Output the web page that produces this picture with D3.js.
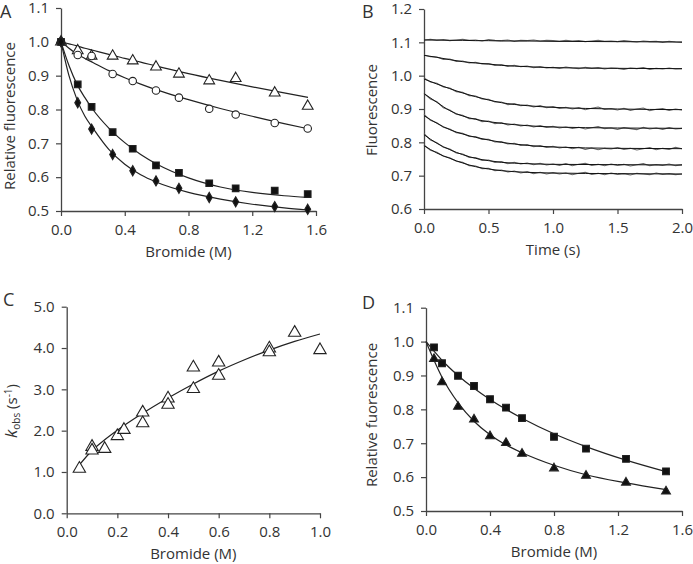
<!DOCTYPE html>
<html><head><meta charset="utf-8">
<script src="https://cdn.jsdelivr.net/npm/d3@7"></script>
<style>
html,body{margin:0;padding:0;background:#fff;}
svg text{font-family:"Open Sans",Lato,sans-serif;fill:#333;}
</style></head>
<body><svg id="c" width="693" height="564"></svg>
<script>
// ---------- Panel A data ----------
const aX = [0, 0.105, 0.192, 0.324, 0.450, 0.596, 0.740, 0.930, 1.096, 1.341, 1.548];
const aTriangle = [1.0, 0.974, 0.958, 0.958, 0.944, 0.926, 0.905, 0.885, 0.892, 0.849, 0.810];
const aCircle = [1.0, 0.961, 0.958, 0.905, 0.884, 0.856, 0.835, 0.802, 0.785, 0.760, 0.744];
const aSquare = [1.0, 0.874, 0.808, 0.733, 0.684, 0.635, 0.613, 0.582, 0.567, 0.560, 0.550];
const aDiamond = [1.0, 0.820, 0.742, 0.667, 0.619, 0.589, 0.567, 0.540, 0.527, 0.513, 0.505];
const aFitX = [0, 0.05, 0.1, 0.15, 0.2, 0.3, 0.4, 0.5, 0.6, 0.8, 1.0, 1.2, 1.4, 1.55];
const aFitTriangle = [1.0, 0.994, 0.988, 0.981, 0.975, 0.963, 0.951, 0.940, 0.928, 0.906, 0.886, 0.867, 0.849, 0.836];
const aFitCircle = [1.0, 0.981, 0.964, 0.951, 0.939, 0.915, 0.894, 0.875, 0.858, 0.829, 0.803, 0.780, 0.758, 0.743];
const aFitSquare = [1.0, 0.930, 0.875, 0.835, 0.800, 0.745, 0.702, 0.667, 0.639, 0.598, 0.571, 0.555, 0.545, 0.540];
const aFitDiamond = [1.0, 0.900, 0.830, 0.780, 0.745, 0.682, 0.638, 0.607, 0.585, 0.555, 0.535, 0.520, 0.509, 0.503];
const aXTicks = [0, 0.4, 0.8, 1.2, 1.6];
const aYTicks = [0.5, 0.6, 0.7, 0.8, 0.9, 1.0, 1.1];

// ---------- Panel B data ----------
const bTimes = [0,0.05,0.1,0.15,0.2,0.25,0.3,0.35,0.4,0.45,0.5,0.55,0.6,0.65,0.7,0.75,0.8,0.85,0.9,0.95,1.0,1.05,1.1,1.15,1.2,1.25,1.3,1.35,1.4,1.45,1.5,1.55,1.6,1.65,1.7,1.75,1.8,1.85,1.9,1.95,2.0];
const bTrace1 = [1.107,1.109,1.106,1.108,1.105,1.107,1.109,1.106,1.107,1.104,1.108,1.106,1.105,1.107,1.103,1.106,1.105,1.107,1.104,1.106,1.105,1.103,1.106,1.104,1.105,1.102,1.104,1.106,1.103,1.104,1.102,1.105,1.103,1.101,1.104,1.102,1.103,1.100,1.103,1.101,1.100];
const bTrace2 = [1.062,1.057,1.056,1.049,1.050,1.043,1.044,1.038,1.040,1.035,1.036,1.031,1.033,1.028,1.031,1.027,1.029,1.024,1.027,1.023,1.025,1.022,1.026,1.023,1.021,1.025,1.022,1.024,1.020,1.023,1.022,1.019,1.023,1.021,1.024,1.019,1.022,1.020,1.023,1.020,1.021];
const bTrace3 = [0.993,0.981,0.977,0.966,0.963,0.952,0.950,0.940,0.939,0.930,0.929,0.921,0.921,0.913,0.916,0.910,0.912,0.906,0.910,0.904,0.907,0.902,0.905,0.900,0.904,0.898,0.902,0.906,0.899,0.901,0.897,0.902,0.896,0.900,0.903,0.895,0.899,0.901,0.896,0.900,0.897];
const bTrace4 = [0.947,0.930,0.922,0.904,0.897,0.884,0.881,0.871,0.871,0.862,0.864,0.856,0.859,0.852,0.855,0.849,0.852,0.846,0.850,0.845,0.848,0.843,0.846,0.842,0.845,0.840,0.844,0.847,0.841,0.843,0.839,0.844,0.841,0.838,0.845,0.840,0.843,0.839,0.844,0.840,0.842];
const bTrace5 = [0.884,0.866,0.859,0.845,0.840,0.829,0.827,0.818,0.817,0.809,0.809,0.801,0.802,0.795,0.797,0.791,0.793,0.787,0.790,0.785,0.788,0.783,0.786,0.781,0.785,0.779,0.783,0.778,0.782,0.780,0.784,0.779,0.782,0.777,0.781,0.784,0.778,0.782,0.779,0.785,0.781];
const bTrace6 = [0.826,0.807,0.799,0.785,0.780,0.768,0.765,0.755,0.754,0.746,0.747,0.740,0.742,0.736,0.740,0.735,0.738,0.733,0.737,0.732,0.735,0.731,0.736,0.730,0.734,0.737,0.731,0.734,0.730,0.735,0.731,0.734,0.729,0.733,0.736,0.730,0.733,0.731,0.735,0.730,0.733];
const bTrace7 = [0.792,0.776,0.770,0.758,0.754,0.743,0.740,0.730,0.729,0.721,0.722,0.715,0.717,0.711,0.714,0.708,0.712,0.706,0.710,0.705,0.709,0.705,0.708,0.703,0.707,0.710,0.704,0.707,0.703,0.708,0.704,0.706,0.702,0.707,0.705,0.703,0.708,0.704,0.706,0.703,0.705];
const bFitTimes = [0, 0.1, 0.2, 0.3, 0.4, 0.5, 0.6, 0.8, 1.0, 1.5, 2.0];
const bFit1 = [1.107, 1.107, 1.106, 1.106, 1.105, 1.105, 1.104, 1.104, 1.103, 1.102, 1.101];
const bFit2 = [1.061, 1.055, 1.048, 1.042, 1.038, 1.035, 1.031, 1.027, 1.024, 1.022, 1.021];
const bFit3 = [0.990, 0.975, 0.961, 0.948, 0.937, 0.927, 0.919, 0.910, 0.905, 0.900, 0.898];
const bFit4 = [0.946, 0.920, 0.895, 0.879, 0.869, 0.862, 0.857, 0.850, 0.846, 0.843, 0.842];
const bFit5 = [0.880, 0.857, 0.838, 0.825, 0.815, 0.807, 0.800, 0.791, 0.786, 0.782, 0.781];
const bFit6 = [0.823, 0.797, 0.778, 0.763, 0.752, 0.745, 0.740, 0.736, 0.734, 0.733, 0.732];
const bFit7 = [0.790, 0.768, 0.752, 0.738, 0.727, 0.720, 0.715, 0.710, 0.708, 0.706, 0.705];
const bXTicks = [0, 0.5, 1.0, 1.5, 2.0];
const bYTicks = [0.6, 0.7, 0.8, 0.9, 1.0, 1.1, 1.2];

// ---------- Panel C data ----------
const cX = [0.05, 0.1, 0.1, 0.15, 0.2, 0.226, 0.3, 0.3, 0.4, 0.4, 0.5, 0.5, 0.6, 0.6, 0.8, 0.8, 0.9, 1.0];
const cK = [1.08, 1.61, 1.52, 1.56, 1.87, 2.02, 2.44, 2.18, 2.78, 2.63, 3.53, 3.01, 3.65, 3.33, 3.99, 3.90, 4.37, 3.95];
const cFitX = [0.05, 0.1, 0.15, 0.2, 0.3, 0.4, 0.5, 0.6, 0.7, 0.8, 0.9, 1.0];
const cFitK = [1.17, 1.52, 1.78, 2.01, 2.42, 2.79, 3.13, 3.44, 3.71, 3.95, 4.16, 4.34];
const cXTicks = [0, 0.2, 0.4, 0.6, 0.8, 1.0];
const cYTicks = [0, 1, 2, 3, 4, 5];

// ---------- Panel D data ----------
const dX = [0.05, 0.1, 0.2, 0.3, 0.4, 0.5, 0.6, 0.8, 1.0, 1.25, 1.5];
const dSquare = [0.983, 0.936, 0.899, 0.869, 0.830, 0.805, 0.774, 0.719, 0.684, 0.654, 0.617];
const dTriangle = [0.949, 0.880, 0.808, 0.770, 0.721, 0.701, 0.669, 0.626, 0.604, 0.584, 0.558];
const dFitX = [0, 0.05, 0.1, 0.2, 0.3, 0.4, 0.5, 0.6, 0.8, 1.0, 1.25, 1.5];
const dFitSquare = [1.0, 0.972, 0.945, 0.900, 0.862, 0.829, 0.800, 0.774, 0.728, 0.690, 0.650, 0.616];
const dFitTriangle = [1.0, 0.945, 0.895, 0.820, 0.765, 0.725, 0.695, 0.672, 0.635, 0.607, 0.583, 0.563];
const dXTicks = [0, 0.4, 0.8, 1.2, 1.6];
const dYTicks = [0.5, 0.6, 0.7, 0.8, 0.9, 1.0, 1.1];

// ---------- drawing ----------
const svg = d3.select("#c");
const AX = "#444";
const FS = 15;
const FONT = "'Open Sans', Lato, sans-serif";

function panel(o) {
  const x = d3.scaleLinear().domain(o.xd).range(o.xr);
  const y = d3.scaleLinear().domain(o.yd).range(o.yr);
  const g = svg.append("g");
  const fmt = d3.format(".1f");
  const xa = g.append("g").attr("transform", `translate(0,${o.yr[0]})`)
    .call(d3.axisBottom(x).tickValues(o.xt).tickFormat(fmt).tickSize(5).tickSizeOuter(0).tickPadding(8));
  const ya = g.append("g").attr("transform", `translate(${o.xr[0]},0)`)
    .call(d3.axisLeft(y).tickValues(o.yt).tickFormat(fmt).tickSize(5).tickSizeOuter(0).tickPadding(7));
  [xa, ya].forEach(a => {
    a.select(".domain").attr("stroke", AX).attr("stroke-width", 1.3);
    a.selectAll(".tick line").attr("stroke", AX).attr("stroke-width", 1.2);
    a.selectAll(".tick text").attr("font-size", FS).attr("fill", "#333").attr("font-family", FONT);
  });
  g.append("text").attr("x", (o.xr[0] + o.xr[1]) / 2).attr("y", o.yr[0] + 46)
    .attr("text-anchor", "middle").attr("font-size", FS).text(o.xtitle);
  const yt = g.append("text").attr("transform", `translate(${o.ytx},${o.yty}) rotate(-90)`)
    .attr("text-anchor", "middle").attr("font-size", FS);
  if (typeof o.ytitle === "function") o.ytitle(yt); else yt.text(o.ytitle);
  g.append("text").attr("x", o.lx).attr("y", o.ly).attr("font-size", 18).text(o.letter);
  return {g, x, y};
}

const lineGen = (x, y, curve) => d3.line().x(d => x(d[0])).y(d => y(d[1])).curve(curve || d3.curveMonotoneX);
const zip = (a, b) => a.map((v, i) => [v, b[i]]);

function drawFit(p, xs, ys, w, col) {
  p.g.append("path").datum(zip(xs, ys)).attr("fill", "none").attr("stroke", col || "#222")
    .attr("stroke-width", w || 1.2).attr("d", lineGen(p.x, p.y));
}
function drawMarkers(p, xs, ys, type, size, fill) {
  const sym = d3.symbol().type(type).size(size);
  p.g.append("g").selectAll("path").data(zip(xs, ys)).join("path")
    .attr("transform", d => `translate(${p.x(d[0])},${p.y(d[1])})`)
    .attr("d", sym).attr("fill", fill ? "#111" : "#fff").attr("stroke", "#222").attr("stroke-width", 1.1);
}

// Panel A
const pA = panel({xd:[0,1.6], yd:[0.5,1.1], xr:[61,316], yr:[211,8], xt:aXTicks, yt:aYTicks,
  xtitle:"Bromide (M)", ytitle:"Relative  fluorescence", ytx:15, yty:116, letter:"A", lx:0, ly:18});
drawFit(pA, aFitX, aFitTriangle);
drawFit(pA, aFitX, aFitCircle);
drawFit(pA, aFitX, aFitSquare);
drawFit(pA, aFitX, aFitDiamond);
drawMarkers(pA, aX, aTriangle, d3.symbolTriangle, 50, false);
drawMarkers(pA, aX, aCircle, d3.symbolCircle, 44, false);
drawMarkers(pA, aX, aSquare, d3.symbolSquare, 44, true);
drawMarkers(pA, aX, aDiamond, d3.symbolDiamond, 30, true);

// Panel B
const pB = panel({xd:[0,2.0], yd:[0.6,1.2], xr:[424,682], yr:[209,9], xt:bXTicks, yt:bYTicks,
  xtitle:"Time (s)", ytitle:"Fluorescence", ytx:377, yty:110, letter:"B", lx:362, ly:18});
[bTrace1,bTrace2,bTrace3,bTrace4,bTrace5,bTrace6,bTrace7].forEach(tr => {
  pB.g.append("path").datum(zip(bTimes, tr)).attr("fill", "none").attr("stroke", "#666")
    .attr("stroke-width", 1.1).attr("d", lineGen(pB.x, pB.y, d3.curveLinear));
});
[bFit1,bFit2,bFit3,bFit4,bFit5,bFit6,bFit7].forEach(f => drawFit(pB, bFitTimes, f, 1.0, "#111"));

// Panel C
const pC = panel({xd:[0,1.0], yd:[0,5], xr:[66.7,320], yr:[513.3,306.7], xt:cXTicks, yt:cYTicks,
  xtitle:"Bromide (M)", ytitle: t => {
    t.append("tspan").attr("font-style","italic").attr("font-size", 17).text("k");
    t.append("tspan").attr("font-size", 10).attr("dy", 3).text("obs");
    t.append("tspan").attr("dy", -3).text(" (s");
    t.append("tspan").attr("font-size", 10).attr("dy", -5).text("-1");
    t.append("tspan").attr("dy", 5).text(")");
  }, ytx:17, yty:411, letter:"C", lx:3, ly:306});
drawFit(pC, cFitX, cFitK, 1.2);
drawMarkers(pC, cX, cK, d3.symbolTriangle, 66, false);

// Panel D
const pD = panel({xd:[0,1.6], yd:[0.5,1.1], xr:[426,682], yr:[511,307.7], xt:dXTicks, yt:dYTicks,
  xtitle:"Bromide (M)", ytitle:"Relative fuorescence", ytx:377, yty:415, letter:"D", lx:362, ly:309});
drawFit(pD, dFitX, dFitSquare);
drawFit(pD, dFitX, dFitTriangle);
drawMarkers(pD, dX, dSquare, d3.symbolSquare, 46, true);
drawMarkers(pD, dX, dTriangle, d3.symbolTriangle, 34, true);
</script></body></html>
